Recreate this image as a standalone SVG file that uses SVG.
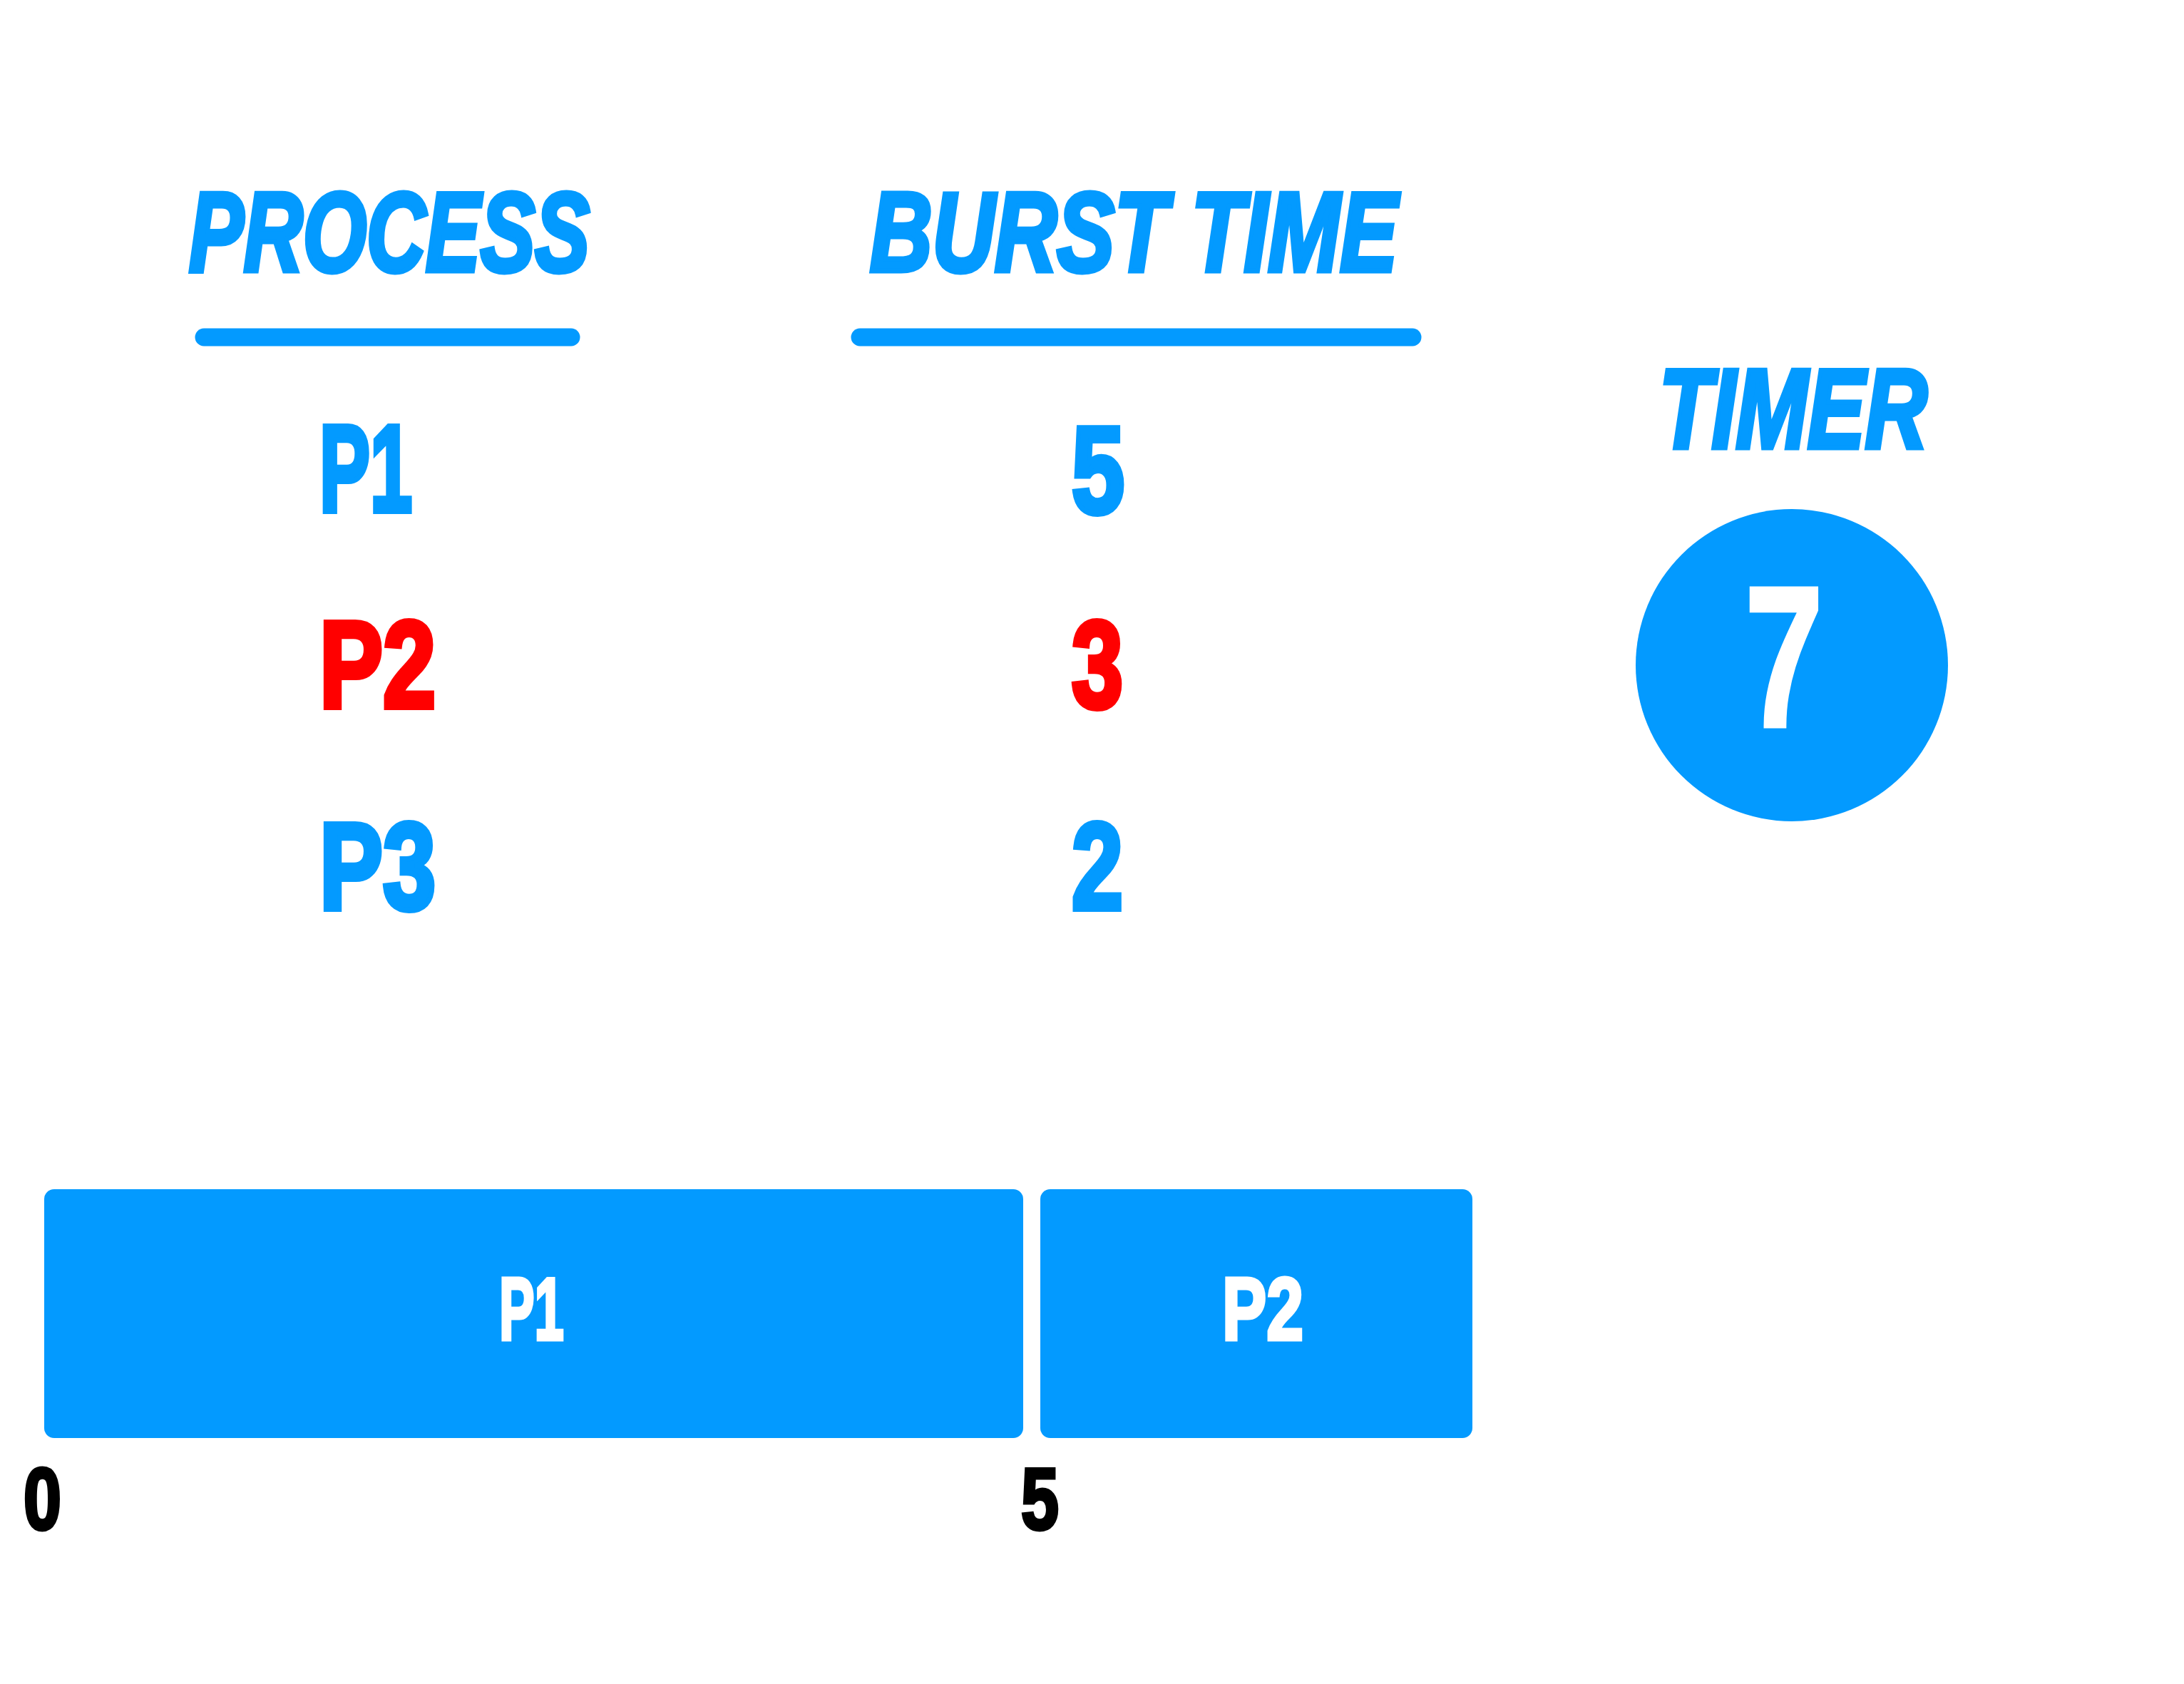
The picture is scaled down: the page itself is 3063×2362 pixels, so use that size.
<svg xmlns="http://www.w3.org/2000/svg" width="3063" height="2362" viewBox="0 0 3063 2362">
<style>
.hdr{font-family:"Liberation Sans",Arial,sans-serif;font-weight:bold;font-style:italic;fill:#039AFF;stroke:#039AFF;stroke-width:7;stroke-linejoin:miter;font-size:158px}
.cell{font-family:"Liberation Sans",Arial,sans-serif;font-weight:bold;font-size:173px;stroke-width:8;stroke-linejoin:miter}
.blue{fill:#039AFF;stroke:#039AFF}
.red{fill:#FF0000;stroke:#FF0000}
.bar{font-family:"Liberation Sans",Arial,sans-serif;font-weight:bold;font-size:125px;fill:#FFFFFF;stroke:#FFFFFF;stroke-width:5}
.tick{font-family:"Liberation Sans",Arial,sans-serif;font-weight:bold;font-size:123px;fill:#000000;stroke:#000000;stroke-width:5}
.rule{stroke:#039AFF;stroke-width:25;stroke-linecap:round;fill:none}
.box{fill:#039AFF}
</style>
<rect width="3063" height="2362" fill="#FFFFFF"/>
<g id="header-process">
<text class="hdr" x="265" y="380" textLength="562" lengthAdjust="spacingAndGlyphs">PROCESS</text>
<line class="rule" x1="286" y1="473" x2="801" y2="473"/>
</g>
<g id="header-burst">
<text class="hdr" x="1220" y="380" textLength="740" lengthAdjust="spacingAndGlyphs">BURST TIME</text>
<line class="rule" x1="1206" y1="473" x2="1981" y2="473"/>
</g>
<g id="p1-row">
<text class="cell blue" x="448" y="717" textLength="130" lengthAdjust="spacingAndGlyphs">P1</text>
<text class="cell blue" x="1503" y="719" textLength="74" lengthAdjust="spacingAndGlyphs">5</text>
</g>
<g id="p2-row">
<text class="cell red" x="448" y="992" textLength="163" lengthAdjust="spacingAndGlyphs">P2</text>
<text class="cell red" x="1503" y="992" textLength="72" lengthAdjust="spacingAndGlyphs">3</text>
</g>
<g id="p3-row">
<text class="cell blue" x="448" y="1275" textLength="163" lengthAdjust="spacingAndGlyphs">P3</text>
<text class="cell blue" x="1503" y="1275" textLength="72" lengthAdjust="spacingAndGlyphs">2</text>
</g>
<g id="timer">
<text class="hdr" x="2327" y="628" textLength="376" lengthAdjust="spacingAndGlyphs">TIMER</text>
<circle cx="2513" cy="933" r="219" fill="#039AFF"/>
<text x="2447" y="1019" textLength="110" lengthAdjust="spacingAndGlyphs" style="font-family:'Liberation Sans',Arial,sans-serif;font-weight:bold;font-size:282px;fill:#FFFFFF;stroke:#FFFFFF;stroke-width:5">7</text>
</g>
<g id="gantt-p1">
<rect class="box" x="62" y="1668" width="1373" height="349" rx="14"/>
<text class="bar" x="700" y="1879" textLength="91" lengthAdjust="spacingAndGlyphs">P1</text>
</g>
<g id="gantt-p2">
<rect class="box" x="1459" y="1668" width="606" height="349" rx="14"/>
<text class="bar" x="1714" y="1879" textLength="114" lengthAdjust="spacingAndGlyphs">P2</text>
</g>
<g id="axis">
<text class="tick" x="33" y="2145" textLength="53" lengthAdjust="spacingAndGlyphs">0</text>
<text class="tick" x="1432" y="2145" textLength="53" lengthAdjust="spacingAndGlyphs">5</text>
</g>
</svg>
